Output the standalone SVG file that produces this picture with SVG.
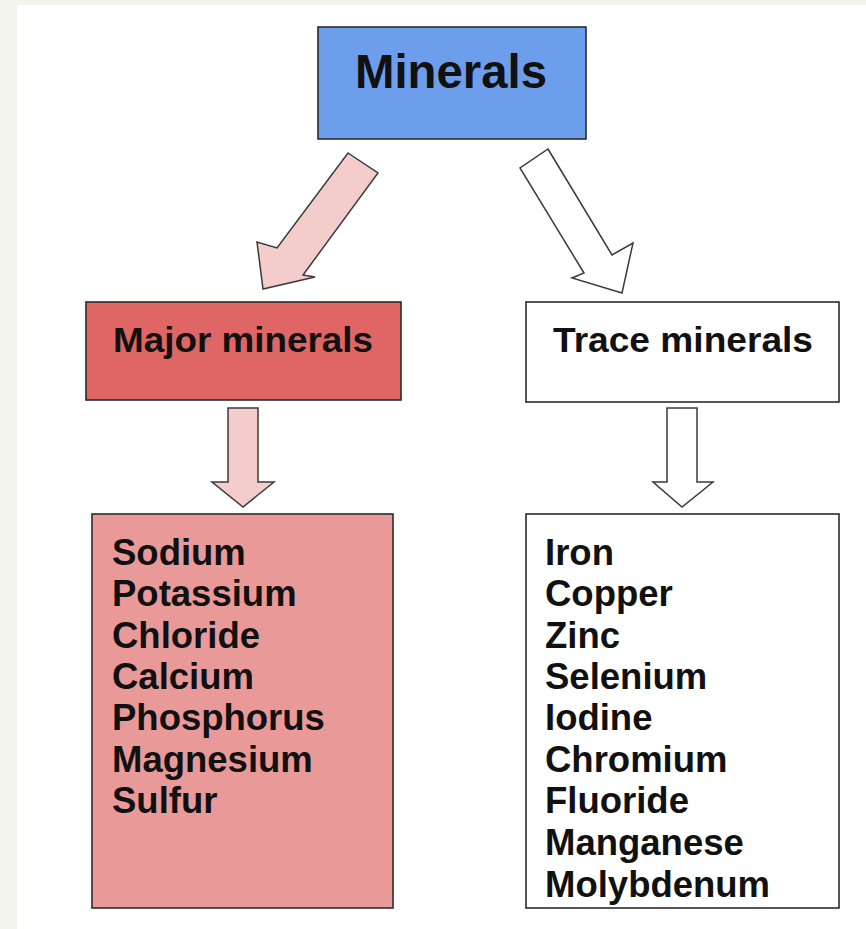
<svg xmlns="http://www.w3.org/2000/svg" width="866" height="929" viewBox="0 0 866 929">
<style>
.box{stroke:#2b2b2b;stroke-width:1.6}
.arr{stroke:#3a3a3a;stroke-width:1.5;stroke-linejoin:miter}
text{font-family:"Liberation Sans",Arial,sans-serif;font-weight:bold;fill:#111}
.hd{font-size:35px;text-anchor:middle}
.ls{font-size:36.5px}
</style>
<rect x="0" y="0" width="866" height="929" fill="#f3f4ec"/>
<rect x="17" y="5" width="849" height="924" fill="#ffffff"/>
<g id="connectors">
<path class="arr" fill="#f4cccc" d="M348,153 L378,173 L303,275 L315,277 L263,289 L257,242 L277,248 Z"/>
<path class="arr" fill="#ffffff" d="M548,149 L612,255 L633,243 L622,293 L572,278 L584,273 L520,168 Z"/>
<path class="arr" fill="#f4cccc" d="M228,408 L258,408 L258,482 L274,482 L243,507 L212,482 L228,482 Z"/>
<path class="arr" fill="#ffffff" d="M667,408 L697,408 L697,482 L713,482 L682,507 L653,482 L667,482 Z"/>
</g>
<g id="minerals">
<rect class="box" x="318" y="27" width="268" height="112" fill="#6d9eeb"/>
<text x="451" y="88" font-size="48" text-anchor="middle" textLength="192" lengthAdjust="spacingAndGlyphs">Minerals</text>
</g>
<g id="major">
<rect class="box" x="86" y="302" width="315" height="98" fill="#e06666"/>
<text class="hd" x="243" y="352" textLength="260" lengthAdjust="spacingAndGlyphs">Major minerals</text>
</g>
<g id="trace">
<rect class="box" x="526" y="302" width="313" height="100" fill="#ffffff"/>
<text class="hd" x="683" y="352" textLength="260" lengthAdjust="spacingAndGlyphs">Trace minerals</text>
</g>
<g id="major-list">
<rect class="box" x="92" y="514" width="301" height="394" fill="#ea9999"/>
<text class="ls" x="112" y="565">Sodium</text>
<text class="ls" x="112" y="606">Potassium</text>
<text class="ls" x="112" y="648">Chloride</text>
<text class="ls" x="112" y="689">Calcium</text>
<text class="ls" x="112" y="730">Phosphorus</text>
<text class="ls" x="112" y="772">Magnesium</text>
<text class="ls" x="112" y="813">Sulfur</text>
</g>
<g id="trace-list">
<rect class="box" x="526" y="514" width="313" height="394" fill="#ffffff"/>
<text class="ls" x="545" y="565">Iron</text>
<text class="ls" x="545" y="606">Copper</text>
<text class="ls" x="545" y="648">Zinc</text>
<text class="ls" x="545" y="689">Selenium</text>
<text class="ls" x="545" y="730">Iodine</text>
<text class="ls" x="545" y="772">Chromium</text>
<text class="ls" x="545" y="813">Fluoride</text>
<text class="ls" x="545" y="855">Manganese</text>
<text class="ls" x="545" y="897">Molybdenum</text>
</g>
</svg>
